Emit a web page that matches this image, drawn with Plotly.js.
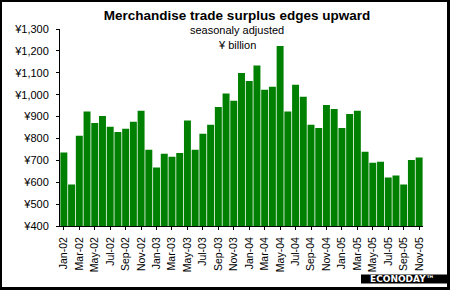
<!DOCTYPE html>
<html>
<head>
<meta charset="utf-8">
<script src="https://cdn.plot.ly/plotly-3.0.1.min.js"></script>
<style>
html,body{margin:0;padding:0;background:#fff;}
#wrap{position:relative;width:450px;height:290px;}
#chart{position:absolute;left:0;top:0;width:450px;height:290px;}
#frame{position:absolute;left:0;top:0;width:450px;height:290px;box-sizing:border-box;border-style:solid;border-color:#000;border-width:2px 3px 3px 2px;pointer-events:none;}
</style>
</head>
<body>
<div id="wrap"><div id="chart"></div><div id="frame"></div></div>
<script>
const months = ["Jan-02","Feb-02","Mar-02","Apr-02","May-02","Jun-02","Jul-02","Aug-02","Sep-02","Oct-02","Nov-02","Dec-02",
"Jan-03","Feb-03","Mar-03","Apr-03","May-03","Jun-03","Jul-03","Aug-03","Sep-03","Oct-03","Nov-03","Dec-03",
"Jan-04","Feb-04","Mar-04","Apr-04","May-04","Jun-04","Jul-04","Aug-04","Sep-04","Oct-04","Nov-04","Dec-04",
"Jan-05","Feb-05","Mar-05","Apr-05","May-05","Jun-05","Jul-05","Aug-05","Sep-05","Oct-05","Nov-05"];
const surplus = [736,590,812,923,871,903,853,830,844,876,927,748,
667,730,716,734,882,748,821,862,944,1005,972,1099,
1063,1133,1022,1036,1222,923,1045,990,862,848,953,935,
848,912,926,739,689,693,622,631,590,702,713];
const tickLabels = months.filter((m,i)=>i%2===0);
const yTicks = [400,500,600,700,800,900,1000,1100,1200,1300];

const W=450,H=290,L=60,R=27,T=29,B=64;
const pw=W-L-R, ph=H-T-B;
const px=x=>(x-L)/pw, py=y=>(H-B-y)/ph;

const font='"Liberation Sans", Arial, sans-serif';
Plotly.newPlot('chart',[{
  type:'bar', x:months, y:surplus,
  marker:{color:'#008000', line:{width:0}},
  hoverinfo:'x+y'
}],{
  width:W,height:H,
  margin:{l:L,r:R,t:T,b:B,pad:0},
  paper_bgcolor:'#fff',plot_bgcolor:'#fff',
  bargap:0.1,
  showlegend:false,
  font:{family:font,color:'#000',size:11},
  title:{text:'<b>Merchandise trade surplus edges upward</b>',font:{family:font,size:13.5,color:'#000'},
    x:237/W,xanchor:'center',y:1-15/H,yref:'container',yanchor:'middle'},
  xaxis:{type:'category',categoryorder:'array',categoryarray:months,
    tickmode:'array',tickvals:tickLabels,ticktext:tickLabels,
    tickangle:-90,tickfont:{family:font,size:10.5,color:'#000'},
    ticks:'outside',ticklen:3,tickcolor:'#000',ticklabelstandoff:3,
    showline:true,linecolor:'#000',linewidth:1,showgrid:false,zeroline:false},
  yaxis:{range:[400,1300],tickmode:'array',tickvals:yTicks,
    ticktext:yTicks.map(v=>'¥'+v.toLocaleString('en-US')),
    tickfont:{family:font,size:11,color:'#000'},
    ticks:'outside',ticklen:3,tickcolor:'#000',ticklabelstandoff:5,
    showline:true,linecolor:'#000',linewidth:1,showgrid:false,zeroline:false},
  shapes:[{type:'rect',xref:'paper',yref:'paper',x0:px(361),x1:px(447),y0:py(274.5),y1:py(283.5),
    fillcolor:'#000',line:{width:0},layer:'above'}],
  annotations:[
    {text:'seasonaly adjusted',xref:'paper',yref:'paper',x:px(237),y:py(30),showarrow:false,xanchor:'center',yanchor:'middle',font:{family:font,size:11,color:'#000'}},
    {text:'¥ billion',xref:'paper',yref:'paper',x:px(237),y:py(45),showarrow:false,xanchor:'center',yanchor:'middle',font:{family:font,size:11,color:'#000'}},
    {text:'<b>ECONODAY™</b>',xref:'paper',yref:'paper',x:px(402),y:py(279),showarrow:false,xanchor:'center',yanchor:'middle',font:{family:'"DejaVu Sans", sans-serif',size:9,color:'#fff'}}
  ]
},{displayModeBar:false,staticPlot:true});
</script>
</body>
</html>
